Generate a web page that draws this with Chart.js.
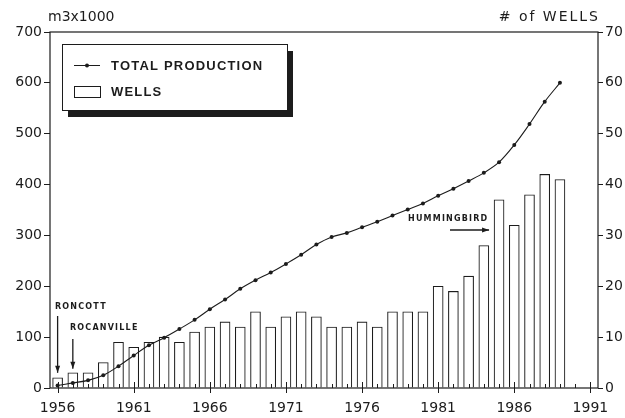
<!DOCTYPE html>
<html>
<head>
<meta charset="utf-8">
<script src="https://cdn.jsdelivr.net/npm/chart.js@4.4.1/dist/chart.umd.min.js"></script>
<style>
  html, body { margin: 0; padding: 0; background: #fff; }
</style>
</head>
<body>
<canvas id="wellsChart" width="625" height="418"></canvas>
<script>
// years on the x axis (1956 - 1991)
const years = [1956, 1957, 1958, 1959, 1960, 1961, 1962, 1963, 1964, 1965,
  1966, 1967, 1968, 1969, 1970, 1971, 1972, 1973, 1974, 1975,
  1976, 1977, 1978, 1979, 1980, 1981, 1982, 1983, 1984, 1985,
  1986, 1987, 1988, 1989, 1990, 1991];

// cumulative production, m3 x 1000 (1956 - 1989)
const production = [5, 10, 15, 25, 43, 64, 84, 99, 116, 134,
  155, 174, 195, 212, 227, 244, 262, 282, 297, 305,
  316, 327, 339, 351, 363, 378, 392, 407, 423, 444,
  478, 519, 563, 600];

// wells drilled per year (1956 - 1989)
const wells = [2, 3, 3, 5, 9, 8, 9, 10, 9, 11,
  12, 13, 12, 15, 12, 14, 15, 14, 12, 12,
  13, 12, 15, 15, 15, 20, 19, 22, 28, 37,
  32, 38, 42, 41];

const INK = '#1c1c1c';
const FONT = 'DejaVu Sans';

// frame, minor year ticks, axis titles
const framePlugin = {
  id: 'frame',
  afterDraw(chart) {
    const ctx = chart.ctx;
    const a = chart.chartArea;
    const xs = chart.scales.x;
    ctx.save();
    ctx.strokeStyle = INK;
    ctx.lineWidth = 1.2;
    ctx.strokeRect(a.left, a.top, a.right - a.left, a.bottom - a.top);
    ctx.lineWidth = 1;
    years.forEach((yr, i) => {
      const px = Math.round(xs.getPixelForValue(i)) + 0.5;
      const major = (yr - 1956) % 5 === 0;
      ctx.beginPath();
      ctx.moveTo(px, a.bottom - (major ? 6 : 4));
      ctx.lineTo(px, a.bottom + (major ? 5 : 0));
      ctx.stroke();
    });
    ctx.fillStyle = INK;
    ctx.font = '14px ' + FONT;
    ctx.textBaseline = 'middle';
    ctx.textAlign = 'left';
    ctx.fillText('m3x1000', 48, 17);
    ctx.textAlign = 'right';
    ctx.letterSpacing = '2px';
    ctx.fillText('# of WELLS', 600, 17);
    ctx.restore();
  }
};

// boxed legend with drop shadow
const legendPlugin = {
  id: 'boxLegend',
  afterDraw(chart) {
    const ctx = chart.ctx;
    const ds = chart.data.datasets;
    ctx.save();
    ctx.fillStyle = INK;
    ctx.fillRect(68, 51, 225, 66);
    ctx.fillStyle = '#fff';
    ctx.fillRect(62, 44, 225, 66);
    ctx.strokeStyle = INK;
    ctx.lineWidth = 1;
    ctx.strokeRect(62.5, 44.5, 225, 66);
    // line sample
    ctx.beginPath();
    ctx.moveTo(74, 65.5);
    ctx.lineTo(100, 65.5);
    ctx.stroke();
    ctx.beginPath();
    ctx.arc(87, 65.5, 2, 0, Math.PI * 2);
    ctx.fillStyle = INK;
    ctx.fill();
    // bar sample
    ctx.strokeRect(74.5, 86.5, 26, 11);
    ctx.fillStyle = INK;
    ctx.font = 'bold 13px "Liberation Sans"';
    ctx.letterSpacing = '1.2px';
    ctx.textBaseline = 'middle';
    ctx.fillText(ds[0].label, 111, 66);
    ctx.fillText(ds[1].label, 111, 92);
    ctx.restore();
  }
};

function arrow(ctx, x1, y1, x2, y2) {
  const ang = Math.atan2(y2 - y1, x2 - x1);
  ctx.beginPath();
  ctx.moveTo(x1, y1);
  ctx.lineTo(x2, y2);
  ctx.stroke();
  ctx.beginPath();
  ctx.moveTo(x2, y2);
  ctx.lineTo(x2 - 7 * Math.cos(ang) + 2.5 * Math.sin(ang), y2 - 7 * Math.sin(ang) - 2.5 * Math.cos(ang));
  ctx.lineTo(x2 - 7 * Math.cos(ang) - 2.5 * Math.sin(ang), y2 - 7 * Math.sin(ang) + 2.5 * Math.cos(ang));
  ctx.closePath();
  ctx.fill();
}

// field discovery notes
const notesPlugin = {
  id: 'notes',
  afterDraw(chart) {
    const ctx = chart.ctx;
    const xs = chart.scales.x;
    const y2 = chart.scales.y2;
    ctx.save();
    ctx.fillStyle = INK;
    ctx.strokeStyle = INK;
    ctx.lineWidth = 1.3;
    ctx.font = 'bold 8px ' + FONT;
    ctx.letterSpacing = '1.2px';
    ctx.textBaseline = 'middle';
    ctx.textAlign = 'left';

    const x56 = xs.getPixelForValue(0);
    ctx.fillText('RONCOTT', 55, 307);
    arrow(ctx, x56, 316, x56, y2.getPixelForValue(wells[0]) - 5);

    const x57 = xs.getPixelForValue(1);
    ctx.fillText('ROCANVILLE', 70, 328);
    arrow(ctx, x57, 339, x57, y2.getPixelForValue(wells[1]) - 4);

    const x85 = xs.getPixelForValue(years.indexOf(1985));
    ctx.fillText('HUMMINGBIRD', 408, 219);
    arrow(ctx, 450, 230, x85 - 10, 230);
    ctx.restore();
  }
};

const data = {
  labels: years,
  datasets: [{
    type: 'line',
    label: 'TOTAL PRODUCTION',
    data: production,
    yAxisID: 'y',
    borderColor: INK,
    backgroundColor: INK,
    borderWidth: 1.1,
    pointRadius: 2,
    pointBorderWidth: 0,
    tension: 0.35,
    order: 1
  }, {
    type: 'bar',
    label: 'WELLS',
    data: wells,
    yAxisID: 'y2',
    backgroundColor: '#fff',
    borderColor: INK,
    borderWidth: 1.1,
    barThickness: 10,
    order: 2
  }]
};

const tickFont = { family: FONT, size: 14 };

const config = {
  type: 'bar',
  data: data,
  options: {
    responsive: false,
    animation: false,
    layout: { padding: { top: 32, left: 0, right: 0, bottom: 0 } },
    plugins: {
      legend: { display: false },
      tooltip: { enabled: false }
    },
    scales: {
      x: {
        type: 'category',
        offset: true,
        grid: { display: false },
        border: { display: false },
        ticks: {
          autoSkip: false,
          maxRotation: 0,
          color: INK,
          font: tickFont,
          padding: 4,
          callback: (v, i) => ((years[i] - 1956) % 5 === 0 ? String(years[i]) : '')
        },
        afterFit: s => { s.height = 30; }
      },
      y: {
        position: 'left',
        min: 0,
        max: 700,
        grid: { drawOnChartArea: false, tickLength: 6, color: INK, lineWidth: 1 },
        border: { display: false },
        ticks: { stepSize: 100, color: INK, font: tickFont, padding: 2 },
        afterFit: s => { s.width = 50; }
      },
      y2: {
        position: 'right',
        min: 0,
        max: 70,
        grid: { drawOnChartArea: false, tickLength: 5, color: INK, lineWidth: 1 },
        border: { display: false },
        ticks: { stepSize: 10, color: INK, font: tickFont, padding: 2 },
        afterFit: s => { s.width = 27; }
      }
    }
  },
  plugins: [framePlugin, notesPlugin, legendPlugin]
};

const wellsChart = new Chart(document.getElementById('wellsChart'), config);
</script>
</body>
</html>
